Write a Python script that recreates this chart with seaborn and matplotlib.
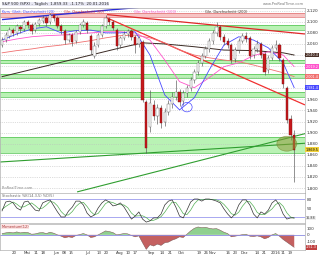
import numpy as np
import pandas as pd
import matplotlib
matplotlib.use("Agg")
import matplotlib.pyplot as plt
import seaborn as sns
from matplotlib.patches import Ellipse

sns.set_theme(style="white")
plt.rcParams['font.family'] = ['DejaVu Sans']

# ---------------- data ----------------
opens = [2058, 2067, 2075, 2085, 2080, 2091, 2087, 2100, 2095, 2085,
         2096, 2102, 2107, 2100, 2113, 2107, 2093, 2084, 2067, 2076,
         2066, 2082, 2095, 2098, 2075, 2039, 2058, 2076, 2093, 2105,
         2100, 2085, 2058, 2071, 2078, 2084, 2073, 2060, 2064, 1955,
         1910, 1950, 1930, 1945, 1919, 1937, 1952, 1964, 1973, 1957,
         1972, 1981, 1995, 2010, 2026, 2039, 2051, 2066, 2080, 2091,
         2073, 2066, 2058, 2033, 2049, 2066, 2075, 2071, 2040, 2051,
         2060, 2042, 2013, 2035, 2053, 2058, 2031, 1981, 1925, 1896]
highs = [2073, 2082, 2091, 2089, 2096, 2095, 2104, 2104, 2098, 2100,
         2107, 2113, 2111, 2116, 2114, 2111, 2096, 2087, 2080, 2080,
         2085, 2098, 2105, 2102, 2078, 2064, 2080, 2096, 2113, 2109,
         2104, 2089, 2075, 2084, 2087, 2087, 2076, 2075, 2067, 1959,
         1977, 1959, 1952, 1950, 1945, 1959, 1973, 1995, 1979, 1977,
         1986, 2001, 2015, 2031, 2044, 2057, 2071, 2085, 2100, 2095,
         2078, 2071, 2062, 2055, 2071, 2080, 2082, 2075, 2057, 2067,
         2064, 2046, 2040, 2058, 2067, 2062, 2035, 1984, 1932, 1905]
lows = [2055, 2064, 2071, 2075, 2076, 2080, 2084, 2089, 2078, 2082,
        2093, 2098, 2093, 2096, 2102, 2089, 2078, 2060, 2064, 2057,
        2062, 2078, 2091, 2080, 2042, 2035, 2055, 2073, 2089, 2095,
        2085, 2049, 2053, 2067, 2073, 2067, 2044, 2055, 1955, 1863,
        1901, 1923, 1916, 1908, 1912, 1932, 1945, 1959, 1948, 1950,
        1964, 1975, 1990, 2004, 2020, 2035, 2046, 2060, 2075, 2067,
        2058, 2053, 2026, 2028, 2044, 2062, 2064, 2033, 2035, 2046,
        2035, 2004, 2008, 2031, 2049, 2029, 1981, 1917, 1887, 1811]
closes = [2067, 2076, 2085, 2080, 2093, 2087, 2100, 2095, 2084, 2096,
          2104, 2107, 2098, 2113, 2107, 2093, 2084, 2067, 2076, 2064,
          2082, 2095, 2100, 2085, 2049, 2057, 2076, 2093, 2107, 2100,
          2089, 2057, 2071, 2078, 2084, 2073, 2058, 2071, 1959, 1872,
          1954, 1930, 1945, 1917, 1937, 1952, 1964, 1973, 1955, 1972,
          1981, 1995, 2010, 2026, 2039, 2051, 2066, 2080, 2091, 2073,
          2064, 2058, 2031, 2049, 2066, 2075, 2069, 2039, 2051, 2060,
          2040, 2010, 2035, 2053, 2058, 2035, 1988, 1923, 1896, 1869]

ma_idx = [0, 4, 8, 12, 16, 20, 24, 28, 32, 36, 40, 44, 48, 52, 56, 60, 64, 68, 72, 76, 79]
ma20 = [2067, 2078, 2087, 2091, 2080, 2084, 2085, 2080, 2080, 2082, 2040,
        1968, 1941, 1963, 2013, 2058, 2073, 2067, 2053, 2026, 1981]
ma50 = [2064, 2069, 2073, 2075, 2076, 2078, 2080, 2082, 2082, 2080, 2067,
        2031, 1992, 1981, 1999, 2019, 2026, 2039, 2046, 2040, 2019]
ma100 = [2044, 2048, 2051, 2055, 2058, 2062, 2066, 2071, 2075, 2076, 2071,
         2062, 2049, 2040, 2035, 2031, 2028, 2022, 2015, 2008, 2001]
ma200_idx = [0, 8, 16, 24, 32, 38, 44, 52, 60, 68, 76, 79]
ma200 = [2001, 2014, 2027, 2040, 2053, 2062, 2060, 2055, 2049, 2048, 2044, 2040]

red_zone = (2109, 2116)
green_zones = [(2085, 2095), (2026, 2031), (1999, 2006), (1964, 1973), (1863, 1892)]

# trend lines: (x0, y0, x1, y1)
blue_trend = (0, 2104, 79, 2151)
red_trend1 = (28.4, 2113, 81.9, 2078)
red_trend2 = (28.4, 2107, 81.9, 1950)
green_trend1 = (-0.5, 1847, 82.4, 1881)
green_trend2 = (20.3, 1793, 82.4, 1899)

stoch_k = [40, 70, 73, 67, 50, 43, 70, 73, 57, 43, 40, 67, 73, 77, 57, 37, 20, 20, 40, 53,
           73, 73, 60, 33, 20, 27, 50, 67, 77, 70, 57, 60, 67, 53, 33, 13, 23, 37, 13, 3,
           7, 17, 17, 30, 60, 73, 77, 53, 23, 17, 43, 70, 80, 80, 73, 80, 80, 77, 73, 67,
           47, 30, 17, 30, 60, 77, 77, 60, 30, 17, 37, 30, 43, 67, 77, 60, 30, 13, 17, 17]
stoch_d = [45, 55, 63, 70, 63, 53, 54, 61, 67, 58, 47, 50, 60, 72, 69, 57, 38, 26, 27, 38,
           55, 66, 69, 55, 38, 27, 32, 48, 65, 71, 68, 62, 61, 60, 51, 33, 23, 24, 24, 18,
           8, 9, 14, 21, 36, 54, 70, 68, 51, 31, 28, 43, 64, 77, 78, 78, 78, 79, 77, 72,
           62, 48, 31, 26, 36, 56, 71, 71, 56, 35, 28, 28, 37, 47, 62, 68, 56, 34, 20, 16]

momentum = [20, 30, 40, 30, 45, 30, 40, 35, 10, 15, 30, 35, 20, 40, 25, 0, -20, -45, -30, -40,
            -10, 5, 20, 0, -40, -30, 0, 30, 60, 50, 35, 0, 10, 20, 15, -10, -30, -15, -120, -220,
            -150, -170, -140, -160, -120, -110, -80, -60, -30, -40, 10, 60, 100, 120, 110, 115, 100, 90, 95, 70,
            40, 20, -30, -20, -10, 5, 10, -20, -25, -15, -30, -60, -40, 0, 20, -20, -70, -110, -150, -190]

tick_pos = [3.4, 6.9, 9.2, 11.2, 14.7, 16.8, 18.6, 23.2, 26.2, 28.1, 31.9, 34.1, 35.9, 40.3,
            43.2, 45.4, 48.4, 53.2, 55.1, 57.0, 61.1, 63.0, 65.4, 68.9, 70.8, 73.9, 75.9, 77.8]
tick_lab = ["20", "Mai", "11", "18", "Jun", "08", "15", "Jul", "13", "20", "Aug", "10", "17", "Sep",
            "14", "21", "Okt", "19", "26", "Nov", "16", "23", "Dez", "14", "21", "2016", "11", "19"]

price_ticks = list(range(1800, 2121, 20))
# price tags on the right axis (value, text, box colour, text colour)
tag_vals = [2040, 2019, 2001, 1981, 1869]
tag_text = ["2,040.4", "2,019.2", "2,001.4", "1,981.4", "1,869.5"]
tag_box = ["#4a3028", "#ff55cc", "#f07070", "#4a4aff", "#f2d23a"]
tag_font = ["white", "white", "white", "white", "black"]

# ---------------- figure ----------------
df = pd.DataFrame({"i": range(len(closes)), "o": opens, "h": highs, "l": lows, "c": closes})
fig = plt.figure(figsize=(3.2, 2.56), dpi=100)
fig.patch.set_facecolor("white")
XL = (-0.54, 81.9)

ax = fig.add_axes([0.0, 0.246, 0.953, 0.723])
ax2 = fig.add_axes([0.0, 0.129, 0.953, 0.117])
ax3 = fig.add_axes([0.0, 0.0234, 0.953, 0.1016])

for a in (ax, ax2, ax3):
    a.set_xlim(*XL)
    a.set_facecolor("white")
    for s in a.spines.values():
        s.set_color("#b0b0b0")
        s.set_linewidth(0.5)
    a.yaxis.tick_right()
    a.tick_params(axis="y", labelsize=3.0, length=0, pad=1, colors="#333333")
    a.tick_params(axis="x", length=0)
    a.set_xticks([])

# main panel
ax.set_ylim(1791, 2125)
ax.set_yticks(price_ticks)
# labels hidden where a price tag covers them (as on the reference)
ax.set_yticklabels(["" if any(abs(v - t) < 8 for t in tag_vals) else f"{v:,}" for v in price_ticks])
ax.grid(axis="y", ls=":", color="#bdbdbd", lw=0.5)

ax.axhspan(*red_zone, color="#f7c4c4", lw=0, zorder=0.5)
for v in red_zone:
    ax.axhline(v, color="#e07070", lw=0.5, zorder=0.6)
for lo, hi in green_zones:
    ax.axhspan(lo, hi, color="#b9f2b4", lw=0, zorder=0.5)
    ax.axhline(lo, color="#4cc04c", lw=0.5, zorder=0.6)
    ax.axhline(hi, color="#4cc04c", lw=0.5, zorder=0.6)

def tline(a, t, color, lw):
    a.plot([t[0], t[2]], [t[1], t[3]], color=color, lw=lw, zorder=2, solid_capstyle="butt")

tline(ax, blue_trend, "#2b2bd8", 1.0)
tline(ax, red_trend1, "#e02828", 0.9)
tline(ax, red_trend2, "#f03030", 0.9)
tline(ax, green_trend1, "#2f9e2f", 0.8)
tline(ax, green_trend2, "#2f9e2f", 0.8)

sns.lineplot(x=ma200_idx, y=ma200, ax=ax, color="#3a2a24", lw=0.7, zorder=2.2)
sns.lineplot(x=ma_idx, y=ma100, ax=ax, color="#f07070", lw=0.6, zorder=2.2)
sns.lineplot(x=ma_idx, y=ma50, ax=ax, color="#ff55cc", lw=0.6, zorder=2.2)
sns.lineplot(x=ma_idx, y=ma20, ax=ax, color="#4a4aff", lw=0.6, zorder=2.2)

# candles
up = df[df.c >= df.o]
dn = df[df.c < df.o]
ax.vlines(df.i, df.l, df.h, color="#555555", lw=0.45, zorder=3)
ax.bar(up.i, up.c - up.o, bottom=up.o, width=0.62, color="white", edgecolor="#666666", lw=0.3, zorder=3.5)
ax.bar(dn.i, dn.o - dn.c, bottom=dn.c, width=0.62, color="#c8181c", edgecolor="#7a1010", lw=0.3, zorder=3.5)

ax.add_patch(Ellipse((77, 1880), 5.4, 27, facecolor="#8e9a3a", alpha=0.55, edgecolor="#6c7a20", lw=0.5, zorder=4))
ax.add_patch(Ellipse((50, 1946), 2.8, 17, facecolor="none", edgecolor="#4a4aff", lw=0.5, zorder=4))

for v, s, fc, tc in zip(tag_vals, tag_text, tag_box, tag_font):
    ax.text(1.003, v, s, transform=ax.get_yaxis_transform(), fontsize=2.4, color=tc,
            va="center", ha="left", bbox=dict(boxstyle="square,pad=0.12", fc=fc, ec="none"),
            zorder=6, clip_on=False)

ax.text(0.005, 0.015, "ProRealTime.com", transform=ax.transAxes, fontsize=2.6, color="#888888", va="bottom")

# stochastic panel
ax2.set_ylim(0, 100)
ax2.set_yticks([50, 80])
ax2.set_yticklabels(["50", "80"])
ax2.axhline(80, color="#9a9aee", lw=0.6)
ax2.axhline(20, color="#9a9aee", lw=0.6)
sns.lineplot(x=list(range(len(stoch_d))), y=stoch_d, ax=ax2, color="#55b055", lw=0.5)
sns.lineplot(x=list(range(len(stoch_k))), y=stoch_k, ax=ax2, color="#333333", lw=0.5)
ax2.text(0.005, 0.97, "Stochastic %K(14,3,5) %D(5)", transform=ax2.transAxes, fontsize=2.5,
         color="#666666", va="top")
ax2.text(1.003, 17, "16.88", transform=ax2.get_yaxis_transform(), fontsize=2.4,
         color="#333333", va="center", bbox=dict(boxstyle="square,pad=0.1", fc="#eeeeee", ec="none"), clip_on=False)

# momentum panel
ax3.set_ylim(-230, 165)
ax3.set_yticks([-100, 0, 100])
ax3.set_yticklabels(["-100", "0", "100"])
mi = np.arange(len(momentum))
mv = np.array(momentum, dtype=float)
ax3.fill_between(mi, 0, mv, where=mv >= 0, interpolate=True, color="#8fd08f", lw=0)
ax3.fill_between(mi, 0, mv, where=mv < 0, interpolate=True, color="#c46060", lw=0)
sns.lineplot(x=mi, y=mv, ax=ax3, color="#7a5050", lw=0.35)
ax3.axhline(0, color="#8a8ae0", lw=0.6)
ax3.text(0.005, 0.97, "Momentum(12)", transform=ax3.transAxes, fontsize=2.5, color="#aa3333",
         va="top", bbox=dict(boxstyle="square,pad=0.1", fc="#fbe3e3", ec="none"))
ax3.text(1.003, -190, "-151.3", transform=ax3.get_yaxis_transform(), fontsize=2.4,
         color="white", va="center", bbox=dict(boxstyle="square,pad=0.1", fc="#c04040", ec="none"), clip_on=False)

ax3.set_xticks(tick_pos)
ax3.set_xticklabels(tick_lab)
ax3.tick_params(axis="x", labelsize=2.8, length=0, pad=0.8, colors="#333333")

for a in (ax, ax2, ax3):
    a.set_xlabel("")
    a.set_ylabel("")
    if a.get_legend():
        a.get_legend().remove()

# header
fig.text(0.006, 0.992, "S&P 500 (SPX) - Täglich  1,859.33  -1.17%  20.01.2016", fontsize=2.8,
         color="#222222", va="top",
         bbox=dict(boxstyle="square,pad=0.1", fc="#e8e8f4", ec="none"))
hx = [0.006, 0.20, 0.42, 0.64]
htxt = ["Kurs  Gleit. Durchschnitt (20)", "Gle. Durchschnitt (50)", "Gle. Durchschnitt (100)", "Gle. Durchschnitt (200)"]
hcol = ["#4a4aff", "#e03030", "#ff55cc", "#4a3028"]
for x, t, c in zip(hx, htxt, hcol):
    fig.text(x, 0.962, t, fontsize=2.6, color=c, va="top")
fig.text(0.95, 0.992, "www.ProRealTime.com", fontsize=2.6, color="#777777", va="top", ha="right")

fig.savefig("out.png", dpi=100)
